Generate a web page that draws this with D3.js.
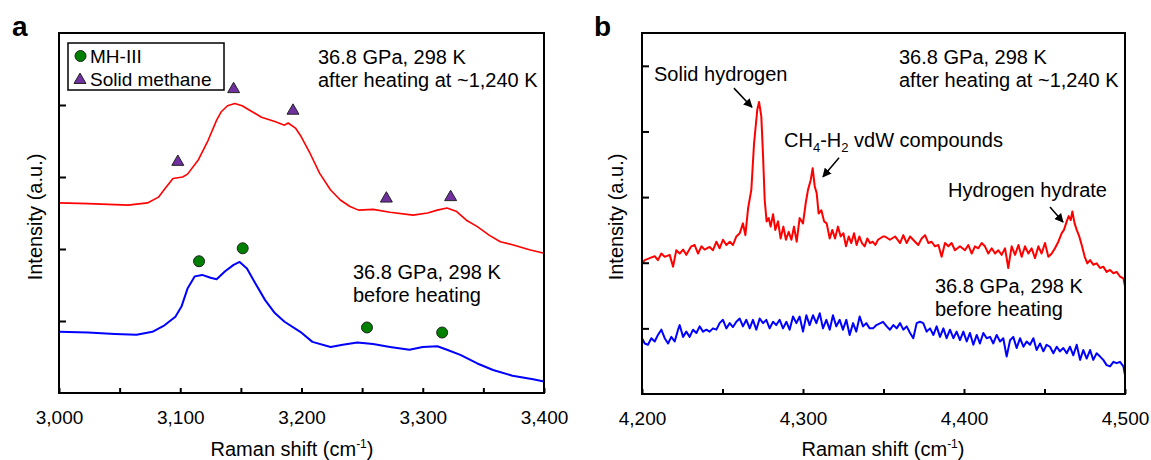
<!DOCTYPE html>
<html><head><meta charset="utf-8">
<script src="https://cdn.jsdelivr.net/npm/d3@7"></script>
<style>
body{margin:0;background:#fff}
text{font-family:"Liberation Sans",Arial,Helvetica,sans-serif;fill:#000}
</style>
</head><body>
<svg id="c" width="1151" height="460"></svg>
<script>
// ---------- Panel a data (Raman shift cm^-1, intensity a.u.) ----------
const shiftA_after = [3000,3024,3057,3073,3082,3087,3094,3102,3106,3115,3123,3130,3134,3139,3145,3151,3159,3167,3178,3186,3189,3195,3199,3207,3215,3224,3232,3240,3247,3259,3273,3292,3304,3312,3320,3328,3336,3345,3355,3364,3374,3388,3400];
const intA_after = [2.64,2.63,2.61,2.64,2.72,2.83,2.98,3.00,3.04,3.24,3.51,3.79,3.91,3.99,4.02,3.99,3.91,3.83,3.77,3.72,3.75,3.68,3.58,3.33,3.05,2.82,2.68,2.59,2.54,2.55,2.51,2.47,2.50,2.54,2.57,2.52,2.40,2.31,2.19,2.10,2.06,1.99,1.94];
const shiftA_before = [3000,3024,3046,3064,3077,3087,3096,3101,3106,3112,3118,3125,3130,3137,3144,3149,3155,3162,3170,3178,3186,3199,3209,3224,3234,3246,3259,3273,3289,3300,3312,3320,3331,3345,3358,3374,3391,3400];
const intA_before = [0.85,0.84,0.82,0.81,0.85,0.94,1.06,1.20,1.45,1.62,1.64,1.60,1.58,1.69,1.78,1.82,1.73,1.52,1.29,1.11,0.99,0.85,0.71,0.64,0.67,0.70,0.68,0.64,0.60,0.64,0.65,0.60,0.53,0.41,0.32,0.24,0.19,0.16];
const methaneX = [3098,3144,3193,3270,3323];
const methaneY = [3.21,4.22,3.92,2.70,2.72];
const mh3X = [3115.5,3151.5,3254,3316];
const mh3Y = [1.83,2.01,0.91,0.84];
const xTicksA = [3000,3050,3100,3150,3200,3250,3300,3350,3400];
const yTicksA = [1,2,3,4];

// ---------- Panel b data ----------
const shiftB_after = [4200,4201.7,4204.8,4207.9,4209.9,4212,4214.1,4217.2,4219.3,4221.3,4223.4,4225.5,4227.5,4230.6,4232.7,4234.8,4236.9,4238.9,4242,4244.1,4246.2,4248.2,4250.3,4252.4,4254.5,4256.5,4258.6,4260.7,4262.7,4264.2,4265.9,4267.9,4269.6,4271.6,4272.7,4274.1,4275.2,4276.2,4277.4,4278.7,4279.9,4281.4,4282.8,4284.5,4286.1,4287.8,4289.4,4291.1,4292.8,4294.4,4296.1,4297.9,4300,4301.7,4303.1,4304.8,4306,4307.3,4308.5,4309.7,4311.4,4313.1,4314.7,4316.6,4318.2,4319.9,4321.7,4323.4,4325.1,4326.7,4328.4,4330,4331.7,4333.3,4335,4336.6,4338.3,4340,4341.6,4343.3,4344.9,4346.6,4349.7,
4350.9,4354,4357.2,4360.3,4362.3,4364.4,4366.5,4369.6,4371.6,4373.7,4375.8,4377.9,4379.9,4382,4384.1,4386.1,4388.2,4390.3,4392.3,4394.4,4397.5,4400.6,4402.7,4404.8,4406.8,4408.9,4411,4413,4415.1,4417.2,4419.3,4421.3,4423.4,4425.5,4427.5,4429.6,4431.7,4433.8,4435.8,4437.9,4440,4442,4444.1,4446.2,4448.2,4450.3,4452.4,4454.5,4456.5,4458.6,4460.7,4462.1,4463.8,4465,4466.3,4467.3,4468.7,4470,4471.6,4473.3,4475,4476.6,4478.3,4480.3,4482.4,4484.5,4486.5,4488.6,4490.7,4492.8,4494.8,4496.9,4499,4500];
const intB_after = [1.99,2.04,2.07,2.10,2.04,2.14,2.09,2.12,1.94,2.19,2.14,2.20,2.12,2.25,2.27,2.14,2.25,2.20,2.24,2.19,2.32,2.22,2.35,2.27,2.32,2.27,2.40,2.45,2.60,2.42,2.83,3.11,3.82,4.33,4.45,4.23,3.62,2.96,2.63,2.68,2.55,2.74,2.50,2.63,2.37,2.55,2.35,2.47,2.35,2.55,2.32,2.68,2.60,2.91,3.11,3.26,3.44,3.16,3.06,2.75,2.80,2.63,2.60,2.37,2.50,2.37,2.55,2.40,2.45,2.25,2.40,2.30,2.45,2.27,2.40,2.30,2.25,2.37,2.30,2.32,2.27,2.35,2.40,
2.40,2.35,2.40,2.30,2.42,2.30,2.40,2.32,2.27,2.37,2.42,2.30,2.32,2.25,2.27,2.09,2.30,2.25,2.30,2.19,2.25,2.19,2.27,2.14,2.25,2.22,2.30,2.25,2.14,2.22,2.14,2.19,2.12,2.22,1.92,2.25,2.12,2.27,2.09,2.25,2.14,2.22,2.07,2.25,2.14,2.30,2.09,2.14,2.22,2.32,2.45,2.50,2.63,2.71,2.65,2.78,2.60,2.50,2.40,2.25,2.09,1.99,2.04,1.97,1.99,1.92,1.94,1.86,1.89,1.84,1.86,1.79,1.76,1.64];
const shiftB_before = [4200,4201.7,4203.7,4205.8,4207.9,4209.9,4212,4214.1,4216.2,4218.2,4220.3,4222.4,4223.4,4225.5,4227.5,4229.6,4231.7,4233.8,4235.8,4237.9,4240,4242,4244.1,4246.2,4248.2,4250.3,4252.4,4254.5,4256.5,4258.6,4260.7,4262.7,4264.8,4266.9,4268.9,4271,4273.1,4275.2,4277.2,4279.3,4281.4,4283.4,4285.5,4287.6,4289.7,4291.7,4293.8,4295.9,4297.9,4300,4302.1,4304.1,4306.2,4308.3,4310.4,4312.4,4314.5,4316.6,4318.6,4320.7,4322.8,4324.8,4326.9,4329,4331.1,4333.1,4335.2,4337.3,4339.3,4341.4,4343.5,4345.6,4349.7,
4352,4354,4356.1,4358.2,4360.3,4362.3,4364.4,4366.5,4368.5,4370.6,4372.7,4374.7,4376.8,4378.9,4381,4383,4385.1,4387.2,4389.2,4391.3,4393.4,4395.4,4397.5,4399.6,4401.7,4403.7,4405.8,4407.9,4409.9,4412,4414.1,4416.2,4418.2,4420.3,4422.4,4424.4,4426.5,4428.6,4430.6,4432.7,4434.8,4436.9,4438.9,4441,4443.1,4445.1,4447.2,4449.3,4451.3,4453.4,4455.5,4457.6,4459.6,4461.7,4463.8,4465.8,4467.9,4470,4472.1,4474.1,4476.2,4478.3,4480.3,4482.4,4484.5,4486.5,4488.6,4490.7,4492.8,4494.8,4496.9,4499,4500];
const intB_before = [0.85,0.77,0.75,0.85,0.80,0.90,0.98,0.85,0.77,0.87,0.80,0.98,1.05,0.87,0.95,0.87,0.98,0.93,1.03,0.95,0.98,0.95,1.00,0.98,1.08,1.13,1.00,1.08,1.02,1.10,1.15,1.03,1.13,1.00,1.13,0.98,1.15,1.08,1.13,1.00,1.10,1.05,1.13,1.00,1.10,0.98,1.18,1.08,1.18,0.95,1.20,1.05,1.20,1.08,1.23,1.00,1.13,0.98,1.20,1.03,1.13,0.98,1.13,0.90,1.08,0.95,1.18,1.03,1.08,1.00,1.00,1.05,1.10,
1.03,0.98,1.05,1.00,1.08,0.98,1.03,0.93,0.85,1.08,1.10,1.08,0.95,1.00,0.90,1.03,0.87,1.00,0.85,0.98,0.85,0.95,0.82,0.95,0.80,0.93,0.75,0.90,0.77,0.93,0.85,0.87,0.77,0.90,0.80,0.85,0.57,0.82,0.87,0.70,0.85,0.72,0.80,0.75,0.85,0.67,0.77,0.65,0.75,0.72,0.62,0.72,0.65,0.70,0.62,0.72,0.59,0.75,0.52,0.67,0.54,0.67,0.52,0.62,0.57,0.52,0.44,0.42,0.49,0.47,0.49,0.42,0.29];
const xTicksB = [4200,4250,4300,4350,4400,4450,4500];
const yTicksB = [1,2,3,4,5];
// arrows in panel b: [x1, y1, x2, y2] in data units
const arrowsB = [[4257.1,4.66,4268.3,4.37],[4322.4,3.60,4312.4,3.31],[4453.4,2.85,4461.5,2.62]];

// ---------- Drawing ----------
const svg = d3.select("#c");
svg.append("rect").attr("width",1151).attr("height",460).attr("fill","#fff");
svg.append("defs").append("marker")
  .attr("id","arr").attr("viewBox","0 0 10 10").attr("refX",9).attr("refY",5)
  .attr("markerWidth",9).attr("markerHeight",9).attr("markerUnits","userSpaceOnUse")
  .attr("orient","auto")
  .append("path").attr("d","M0,0 L10,5 L0,10 z").attr("fill","#000");

const fmt = d3.format(",");
const zip = (a,b) => a.map((v,i)=>[v,b[i]]);

function panel(o){
  const x = d3.scaleLinear().domain(o.xDomain).range(o.xRange);
  const y = d3.scaleLinear().domain(o.yDomain).range(o.yRange);
  const g = svg.append("g");
  const line = d3.line().x(d=>x(d[0])).y(d=>y(d[1]));
  o.series.forEach(s=>{
    g.append("path").datum(zip(s.x,s.y)).attr("d",line)
      .attr("fill","none").attr("stroke",s.color).attr("stroke-width",s.w)
      .attr("stroke-linejoin","round");
  });
  // x axis
  const xa = g.append("g").attr("transform",`translate(0,${o.yRange[0]})`)
    .call(d3.axisBottom(x).tickValues(o.xTicks).tickSizeInner(-5).tickSizeOuter(0).tickPadding(18)
      .tickFormat(d=> d%100===0 ? fmt(d) : ""));
  xa.select(".domain").remove();
  xa.selectAll("line").attr("stroke","#000").attr("stroke-width",2);
  xa.selectAll("text").attr("font-size",19).attr("font-family",'"Liberation Sans",Arial,sans-serif');
  // y axis
  const ya = g.append("g").attr("transform",`translate(${o.xRange[0]},0)`)
    .call(d3.axisLeft(y).tickValues(o.yTicks).tickSizeInner(-7).tickSizeOuter(0).tickFormat(""));
  ya.select(".domain").remove();
  ya.selectAll("line").attr("stroke","#000").attr("stroke-width",2);
  // frame
  g.append("rect").attr("x",o.xRange[0]).attr("y",o.yRange[1])
    .attr("width",o.xRange[1]-o.xRange[0]).attr("height",o.yRange[0]-o.yRange[1])
    .attr("fill","none").attr("stroke","#000").attr("stroke-width",2);
  // y title
  g.append("text").attr("transform",`translate(${o.yTitleX},217) rotate(-90)`)
    .attr("text-anchor","middle").attr("font-size",20).text("Intensity (a.u.)");
  // x title
  const xt = g.append("text").attr("x",o.xTitleX).attr("y",456).attr("text-anchor","middle").attr("font-size",20);
  xt.append("tspan").text("Raman shift (cm");
  xt.append("tspan").attr("font-size",12).attr("dy",-8).text("-1");
  xt.append("tspan").attr("dy",8).text(")");
  // panel letter
  g.append("text").attr("x",o.letterX).attr("y",36).attr("font-size",28).attr("font-weight","bold").text(o.letter);
  return {g,x,y};
}

// Panel a
const A = panel({
  xDomain:[3000,3400], xRange:[59,544], yDomain:[0,5], yRange:[393,33],
  xTicks:xTicksA, yTicks:yTicksA, yTitleX:42, xTitleX:292, letter:"a", letterX:12,
  series:[{x:shiftA_after,y:intA_after,color:"#ff0000",w:1.6},{x:shiftA_before,y:intA_before,color:"#0000ff",w:2}]
});
const tri = d3.symbol().type(d3.symbolTriangle).size(62);
A.g.selectAll(".tri").data(zip(methaneX,methaneY)).join("path")
  .attr("d",tri).attr("transform",d=>`translate(${A.x(d[0])},${A.y(d[1])})`)
  .attr("fill","#7030a0").attr("stroke","#222").attr("stroke-width",1);
A.g.selectAll(".cir").data(zip(mh3X,mh3Y)).join("circle")
  .attr("cx",d=>A.x(d[0])).attr("cy",d=>A.y(d[1])).attr("r",5.5)
  .attr("fill","#008000").attr("stroke","#222").attr("stroke-width",1);
// legend
A.g.append("rect").attr("x",68).attr("y",43).attr("width",156).attr("height",47)
  .attr("fill","#fff").attr("stroke","#000").attr("stroke-width",1.5);
A.g.append("circle").attr("cx",80.5).attr("cy",56).attr("r",5.5).attr("fill","#008000").attr("stroke","#222");
A.g.append("path").attr("d",tri).attr("transform","translate(80,80)").attr("fill","#7030a0").attr("stroke","#222");
A.g.append("text").attr("x",90).attr("y",63).attr("font-size",19).text("MH-III");
A.g.append("text").attr("x",90).attr("y",86).attr("font-size",19).text("Solid methane");
// annotations a
[["36.8 GPa, 298 K",318,64],["after heating at ~1,240 K",318,87],["36.8 GPa, 298 K",353,279],["before heating",353,302]]
  .forEach(t=>A.g.append("text").attr("x",t[1]).attr("y",t[2]).attr("font-size",20).text(t[0]));

// Panel b
const B = panel({
  xDomain:[4200,4500], xRange:[642,1125], yDomain:[0,5.5], yRange:[394,33],
  xTicks:xTicksB, yTicks:yTicksB, yTitleX:623, xTitleX:883, letter:"b", letterX:594,
  series:[{x:shiftB_after,y:intB_after,color:"#ff0000",w:2},{x:shiftB_before,y:intB_before,color:"#0000ff",w:2}]
});
[["36.8 GPa, 298 K",899,64],["after heating at ~1,240 K",899,87],["Solid hydrogen",654,81],["Hydrogen hydrate",948,197],["36.8 GPa, 298 K",935,293],["before heating",935,316]]
  .forEach(t=>B.g.append("text").attr("x",t[1]).attr("y",t[2]).attr("font-size",20).text(t[0]));
const ch = B.g.append("text").attr("x",784).attr("y",147).attr("font-size",20);
ch.append("tspan").text("CH");
ch.append("tspan").attr("font-size",13).attr("dy",5).text("4");
ch.append("tspan").attr("dy",-5).text("-H");
ch.append("tspan").attr("font-size",13).attr("dy",5).text("2");
ch.append("tspan").attr("dy",-5).text(" vdW compounds");
B.g.selectAll(".arrow").data(arrowsB).join("line")
  .attr("x1",d=>B.x(d[0])).attr("y1",d=>B.y(d[1])).attr("x2",d=>B.x(d[2])).attr("y2",d=>B.y(d[3]))
  .attr("stroke","#000").attr("stroke-width",1.5).attr("marker-end","url(#arr)");
</script>
</body></html>
